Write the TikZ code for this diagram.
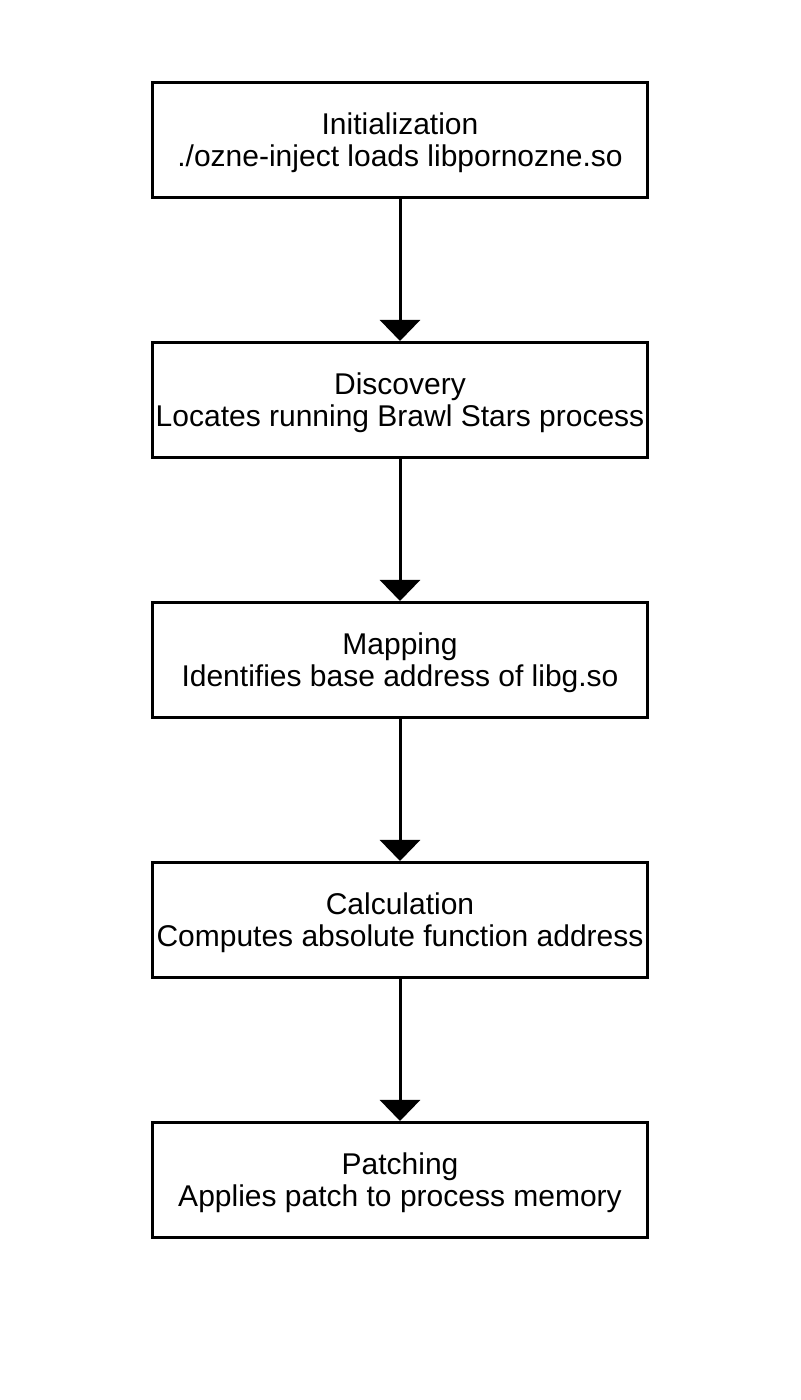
\documentclass[tikz,border=0pt]{standalone}
\usepackage{fontspec}
\setmainfont{Liberation Sans}
\usetikzlibrary{arrows.meta}
\newcommand{\stagetext}[2]{\rule{0pt}{14pt}#1\\#2}
\tikzset{
	stage/.style={draw,line width=1.5pt,minimum width=247.5pt,minimum height=57.5pt,
		align=center,inner sep=0pt,font=\fontsize{15pt}{16pt}\selectfont},
	flow/.style={line width=1.5pt,-{Triangle[width=20pt,length=10.5pt]}}
}
\begin{document}
\begin{tikzpicture}
			\useasboundingbox (0,0) rectangle (400pt,700pt);
			\node[stage] (init) at (200pt,630pt) {\stagetext{Initialization}{./ozne-inject loads libpornozne.so}};
			\node[stage] (disc) at (200pt,500pt) {\stagetext{Discovery}{Locates running Brawl Stars process}};
			\node[stage] (map) at (200pt,370pt) {\stagetext{Mapping}{Identifies base address of libg.so}};
			\node[stage] (calc) at (200pt,240pt) {\stagetext{Calculation}{Computes absolute function address}};
			\node[stage] (patch) at (200pt,110pt) {\stagetext{Patching}{Applies patch to process memory}};
			\draw[flow] (init) -- (disc);
			\draw[flow] (disc) -- (map);
			\draw[flow] (map) -- (calc);
			\draw[flow] (calc) -- (patch);
		\end{tikzpicture}
\end{document}
